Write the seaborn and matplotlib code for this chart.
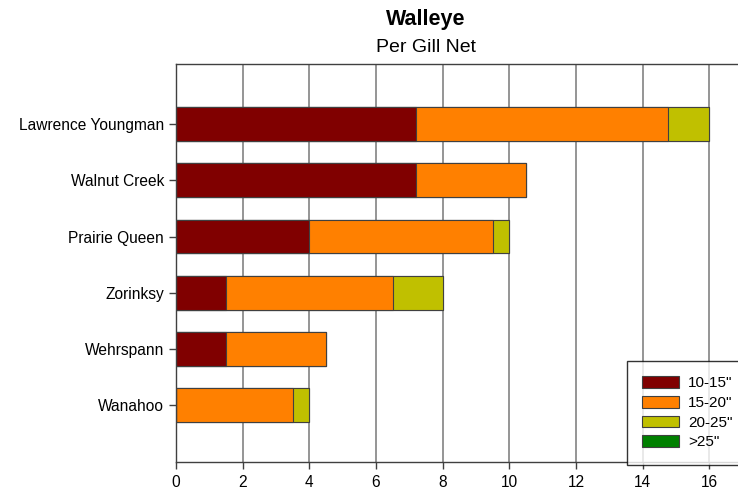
import seaborn as sns
import matplotlib.pyplot as plt
import numpy as np
import pandas as pd
from matplotlib.patches import Patch

lakes = ["Lawrence Youngman", "Walnut Creek", "Prairie Queen",
         "Zorinksy", "Wehrspann", "Wanahoo"]
size_classes = ['10-15"', '15-20"', '20-25"', '>25"']
len_10_15 = [7.2, 7.2, 4.0, 1.5, 1.5, 0.0]
len_15_20 = [7.55, 3.3, 5.5, 5.0, 3.0, 3.5]
len_20_25 = [1.25, 0.0, 0.5, 1.5, 0.0, 0.5]
len_25_up = [0.0, 0.0, 0.0, 0.0, 0.0, 0.0]
colors = ["#800000", "#FF8000", "#C0C000", "#008000"]

sns.set_style("white")
plt.rcParams["font.family"] = ["Liberation Sans", "DejaVu Sans"]
plt.rcParams["text.color"] = "black"

df = pd.DataFrame({"lake": lakes, size_classes[0]: len_10_15,
                   size_classes[1]: len_15_20, size_classes[2]: len_20_25,
                   size_classes[3]: len_25_up})
cum = df[size_classes].cumsum(axis=1)

fig = plt.figure(figsize=(7.38, 4.94), dpi=100)
# axes run off the right edge like the source image
ax = fig.add_axes([176 / 738, 1 - 462 / 494, 600 / 738, 398 / 494])

# stacked bars: draw cumulative totals, largest first
for cls, col in zip(reversed(size_classes), reversed(colors)):
    sns.barplot(x=cum[cls], y=df["lake"], orient="h", color=col,
                width=0.6, edgecolor="#404040", linewidth=0.8,
                saturation=1, ax=ax, zorder=2)

ax.set_xlim(0, 18)
ax.set_ylim(6.01, -1.07)
ax.set_xticks(np.arange(0, 18, 2))
ax.xaxis.grid(True, color="#8c8c8c", linewidth=1.3, zorder=0)
ax.set_axisbelow(True)
ax.set(xlabel="", ylabel="")
for s in ax.spines.values():
    s.set_color("#404040")
    s.set_linewidth(1.0)
ax.tick_params(axis="both", labelsize=11.2, colors="#404040", labelcolor="black",
               length=5, width=1.0, direction="out", bottom=True, left=True)
ax.tick_params(axis="x", pad=4)

handles = [Patch(facecolor=c, edgecolor="#404040", linewidth=0.8) for c in colors]
leg = fig.legend(handles, size_classes, loc="upper left",
                 bbox_to_anchor=(627 / 738, 1 - 361 / 494),
                 fontsize=11, frameon=True, fancybox=False,
                 handlelength=2.4, handleheight=0.8, labelspacing=0.36,
                 handletextpad=0.6, borderpad=1.0, borderaxespad=0)
leg.get_frame().set_edgecolor("black")
leg.get_frame().set_linewidth(1.0)

fig.text(426 / 738, 1 - 20 / 494, "Walleye", ha="center", va="center",
         fontsize=15.5, fontweight="bold")
fig.text(426 / 738, 1 - 47 / 494, "Per Gill Net", ha="center", va="center",
         fontsize=14)

fig.savefig("out.png", dpi=100)
